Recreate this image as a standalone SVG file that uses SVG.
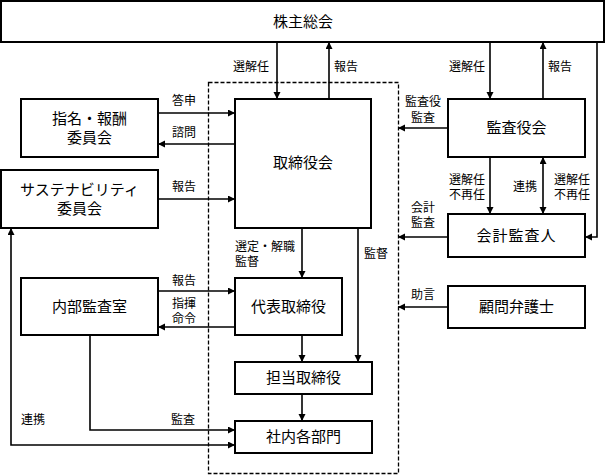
<svg xmlns="http://www.w3.org/2000/svg" width="606" height="475" viewBox="0 0 606 475">
<style>
.box{fill:#fff;stroke:#000;stroke-width:2}
.n{font-family:"Liberation Sans","Noto Sans CJK JP",sans-serif;font-size:15px;fill:#000;text-anchor:middle}
.l{font-family:"Liberation Sans","Noto Sans CJK JP",sans-serif;font-size:12px;fill:#000;text-anchor:middle}
.c{fill:none;stroke:#000;stroke-width:1.6}
.a{marker-end:url(#ah)}
.b{marker-start:url(#ah);marker-end:url(#ah)}
</style>
<defs>
<marker id="ah" markerUnits="userSpaceOnUse" markerWidth="8" markerHeight="8" refX="7" refY="3.5" orient="auto-start-reverse">
<path d="M0,0 L7,3.5 L0,7 z" fill="#000"/>
</marker>
</defs>
<rect x="0" y="0" width="606" height="475" fill="#fff"/>
<rect x="208.5" y="82.5" width="190" height="391" fill="none" stroke="#000" stroke-width="1.3" stroke-dasharray="4,2"/>

<g id="connectors">
<path class="c a" d="M277,42 V99"/>
<path class="c a" d="M329,99 V42"/>
<path class="c a" d="M158,113 H235"/>
<path class="c a" d="M235,144 H158"/>
<path class="c a" d="M158,199 H235"/>
<path class="c a" d="M490,42 V99"/>
<path class="c a" d="M543,99 V42"/>
<path class="c a" d="M448,128 H398"/>
<path class="c a" d="M490,157 V214"/>
<path class="c b" d="M543,157 V214"/>
<path class="c a" d="M597,42 V237 H585"/>
<path class="c a" d="M448,237 H398"/>
<path class="c a" d="M302,228 V278"/>
<path class="c a" d="M358,228 V362"/>
<path class="c a" d="M302,335 V362"/>
<path class="c a" d="M302,394 V421"/>
<path class="c a" d="M158,291 H235"/>
<path class="c a" d="M235,327 H158"/>
<path class="c a" d="M90,335 V430 H235"/>
<path class="c b" d="M11,228 V445 H235"/>
<path class="c a" d="M448,307 H398"/>
</g>

<g id="labels">
<text class="l" x="251" y="71">選解任</text>
<text class="l" x="346" y="71">報告</text>
<text class="l" x="184" y="105">答申</text>
<text class="l" x="184" y="137">諮問</text>
<text class="l" x="184" y="191">報告</text>
<text class="l"><tspan x="423" y="106">監査役</tspan><tspan x="423" y="122">監査</tspan></text>
<text class="l" x="467" y="71">選解任</text>
<text class="l" x="560" y="71">報告</text>
<text class="l"><tspan x="467" y="184">選解任</tspan><tspan x="467" y="199">不再任</tspan></text>
<text class="l" x="525" y="191">連携</text>
<text class="l"><tspan x="572" y="184">選解任</tspan><tspan x="572" y="199">不再任</tspan></text>
<text class="l"><tspan x="423" y="212">会計</tspan><tspan x="423" y="227">監査</tspan></text>
<text class="l" x="376" y="258">監督</text>
<text class="l" style="text-anchor:start"><tspan x="235" y="251">選定・解職</tspan><tspan x="235" y="266">監督</tspan></text>
<text class="l" x="184" y="285">報告</text>
<text class="l"><tspan x="184" y="308">指揮</tspan><tspan x="184" y="323">命令</tspan></text>
<text class="l" x="183" y="424">監査</text>
<text class="l" x="33" y="424">連携</text>
<text class="l" x="423" y="299">助言</text>
</g>

<g id="shareholders"><rect class="box" x="1" y="1" width="603" height="41"/><text class="n" x="303" y="27">株主総会</text></g>
<g id="nomination"><rect class="box" x="21" y="99" width="137" height="58"/><text class="n"><tspan x="89.5" y="124">指名・報酬</tspan><tspan x="89.5" y="143">委員会</tspan></text></g>
<g id="sustainability"><rect class="box" x="1" y="170" width="157" height="58"/><text class="n"><tspan x="79.5" y="195">サステナビリティ</tspan><tspan x="79.5" y="214">委員会</tspan></text></g>
<g id="board"><rect class="box" x="235" y="99" width="136" height="129"/><text class="n" x="303" y="168">取締役会</text></g>
<g id="auditboard"><rect class="box" x="448" y="99" width="137" height="58"/><text class="n" x="516.5" y="133">監査役会</text></g>
<g id="accountant"><rect class="box" x="448" y="214" width="137" height="43"/><text class="n" x="516.5" y="241" style="letter-spacing:1px">会計監査人</text></g>
<g id="lawyer"><rect class="box" x="448" y="286" width="137" height="42"/><text class="n" x="516.5" y="312">顧問弁護士</text></g>
<g id="internalaudit"><rect class="box" x="21" y="278" width="137" height="57"/><text class="n" x="89.5" y="312">内部監査室</text></g>
<g id="representative"><rect class="box" x="235" y="278" width="107" height="57"/><text class="n" x="288.5" y="312">代表取締役</text></g>
<g id="director"><rect class="box" x="235" y="362" width="137" height="32"/><text class="n" x="303.5" y="383">担当取締役</text></g>
<g id="departments"><rect class="box" x="235" y="421" width="137" height="32"/><text class="n" x="303.5" y="442">社内各部門</text></g>
</svg>
